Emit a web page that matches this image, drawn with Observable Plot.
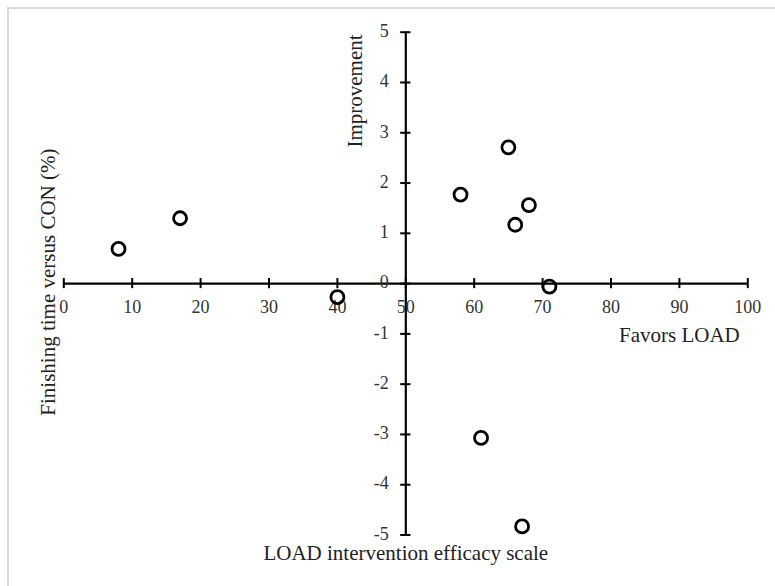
<!DOCTYPE html>
<html>
<head>
<meta charset="utf-8">
<script src="https://cdn.jsdelivr.net/npm/d3@7"></script>
<script src="https://cdn.jsdelivr.net/npm/@observablehq/plot@0.6"></script>
<style>
  html, body { margin: 0; padding: 0; background: #fff; overflow: hidden; }
  #wrap { position: relative; width: 775px; height: 586px; }
  #border { position: absolute; left: 7px; top: 7px; width: 770px; height: 600px;
            border: 2.5px solid #d9d9d9; box-sizing: border-box; }
  #chart { position: absolute; left: 0; top: 0; }
</style>
</head>
<body>
<div id="wrap"><div id="border"></div><div id="chart"></div></div>
<script>
// Data
const efficacy = [8, 17, 40, 58, 65, 66, 68, 71, 61, 67];
const finishingTime = [0.69, 1.30, -0.27, 1.77, 2.71, 1.17, 1.56, -0.06, -3.07, -4.83];
const xTicks = [0, 10, 20, 30, 40, 50, 60, 70, 80, 90, 100];
const yTicks = [-5, -4, -3, -2, -1, 0, 1, 2, 3, 4, 5];
const xTitle = "LOAD intervention efficacy scale";
const yTitle = "Finishing time versus CON (%)";
const upLabel = "Improvement";
const rightLabel = "Favors LOAD";

const points = efficacy.map((x, i) => ({x, y: finishingTime[i]}));

const font = "'Liberation Serif', 'Times New Roman', serif";

const chart = Plot.plot({
  width: 775,
  height: 586,
  marginLeft: 63.3,
  marginRight: 27.7,
  marginTop: 31.7,
  marginBottom: 51.5,
  style: {fontFamily: font, background: "transparent", overflow: "visible"},
  x: {domain: [0, 100], axis: null},
  y: {domain: [-5, 5], axis: null},
  marks: [
    Plot.ruleY([0], {stroke: "#000", strokeWidth: 2.2}),
    Plot.ruleX([50], {y1: -5, y2: 5, stroke: "#000", strokeWidth: 2.2}),
    Plot.ruleX(xTicks, {x: d => d, y1: -0.1, y2: 0.1, stroke: "#000", strokeWidth: 2}),
    Plot.ruleY(yTicks, {y: d => d, x1: 50 - 0.75, x2: 50 + 0.75, stroke: "#000", strokeWidth: 2}),
    Plot.text(xTicks, {x: d => d, y: 0, dy: 24, text: d => String(d), fontSize: 18, fill: "#333"}),
    Plot.text(yTicks, {x: 50, y: d => d, dx: -17, dy: -1, textAnchor: "end", text: d => String(d), fontSize: 18, fill: "#333"}),
    Plot.text([rightLabel], {x: 90, y: -1.03, text: d => d, fontSize: 21, fill: "#222"}),
    Plot.text([xTitle], {x: 50, y: -5.37, text: d => d, fontSize: 21, fill: "#222"}),
    Plot.text([upLabel], {x: 42.6, y: 3.83, text: d => d, rotate: -90, fontSize: 21, fill: "#222"}),
    Plot.text([yTitle], {x: -2.25, y: 0.03, text: d => d, rotate: -90, fontSize: 21, fill: "#222"}),
    Plot.dot(points, {x: "x", y: "y", r: 6.5, stroke: "#000", strokeWidth: 2.8, fill: "none"})
  ]
});
document.getElementById("chart").appendChild(chart);
</script>
</body>
</html>
